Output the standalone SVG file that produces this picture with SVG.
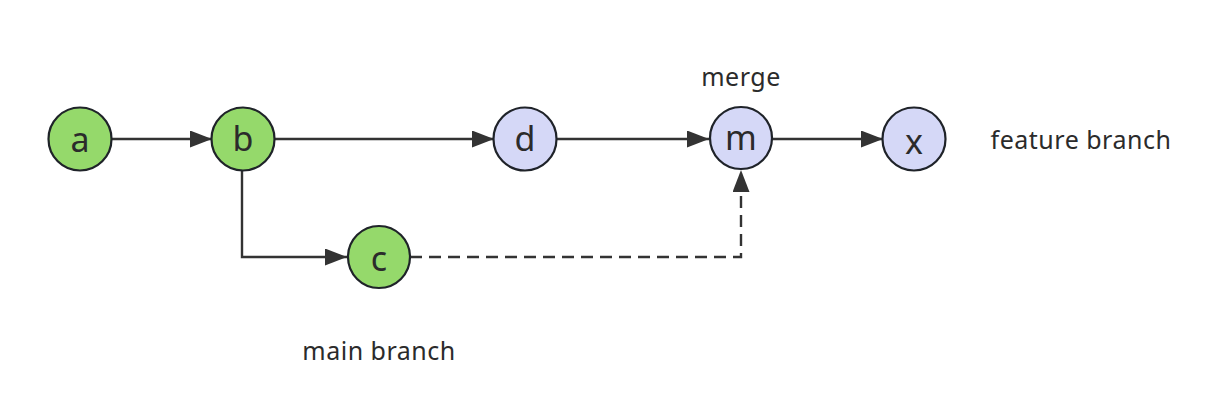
<svg xmlns="http://www.w3.org/2000/svg" width="1232" height="419" viewBox="0 0 1232 419">
<style>
.n{stroke:#1f2329;stroke-width:2.2}
.g{fill:#95d96b}
.p{fill:#d5d8f7}
.t{font-family:"Noto Sans","Open Sans",sans-serif;fill:#2b2b2b;text-anchor:middle;dominant-baseline:central}
.nt{font-size:34px}
.lt{font-size:25px;letter-spacing:0.5px}
.e{fill:none;stroke:#333;stroke-width:2.4}
.d{stroke-dasharray:12 7}
</style>
<defs>
<marker id="ah" viewBox="0 0 22 17" refX="22" refY="8.5" markerWidth="22" markerHeight="17" markerUnits="userSpaceOnUse" orient="auto">
<path d="M0,0 L22,8.5 L0,17 Z" fill="#333"/>
</marker>
</defs>
<rect width="1232" height="419" fill="#fff"/>
<g id="connectors">
<path class="e" d="M112,139 L212,139" marker-end="url(#ah)"/>
<path class="e" d="M275,139 L494,139" marker-end="url(#ah)"/>
<path class="e" d="M557,139 L709,139" marker-end="url(#ah)"/>
<path class="e" d="M765,139 L883,139" marker-end="url(#ah)"/>
<path class="e" d="M242,170 L242,257 L347,257" marker-end="url(#ah)"/>
<path class="e d" d="M410,257 L741,257 L741,170" marker-end="url(#ah)"/>
</g>
<g id="node-a"><circle class="n g" cx="80" cy="139" r="31.5"/><text class="t nt" x="80" y="139">a</text></g>
<g id="node-b"><circle class="n g" cx="243" cy="139" r="31.5"/><text class="t nt" x="243" y="138">b</text></g>
<g id="node-c"><circle class="n g" cx="379" cy="257" r="31"/><text class="t nt" x="379" y="258">c</text></g>
<g id="node-d"><circle class="n p" cx="525" cy="139" r="31.5"/><text class="t nt" x="525" y="138">d</text></g>
<g id="node-m"><circle class="n p" cx="741" cy="138" r="31"/><text class="t nt" x="741" y="137">m</text></g>
<g id="node-x"><circle class="n p" cx="914" cy="139" r="31.5"/><text class="t nt" x="914" y="141">x</text></g>
<g id="label-merge"><text class="t lt" x="741" y="76">merge</text></g>
<g id="label-feature"><text class="t lt" x="1081" y="139">feature branch</text></g>
<g id="label-main"><text class="t lt" x="379" y="350">main branch</text></g>
</svg>
